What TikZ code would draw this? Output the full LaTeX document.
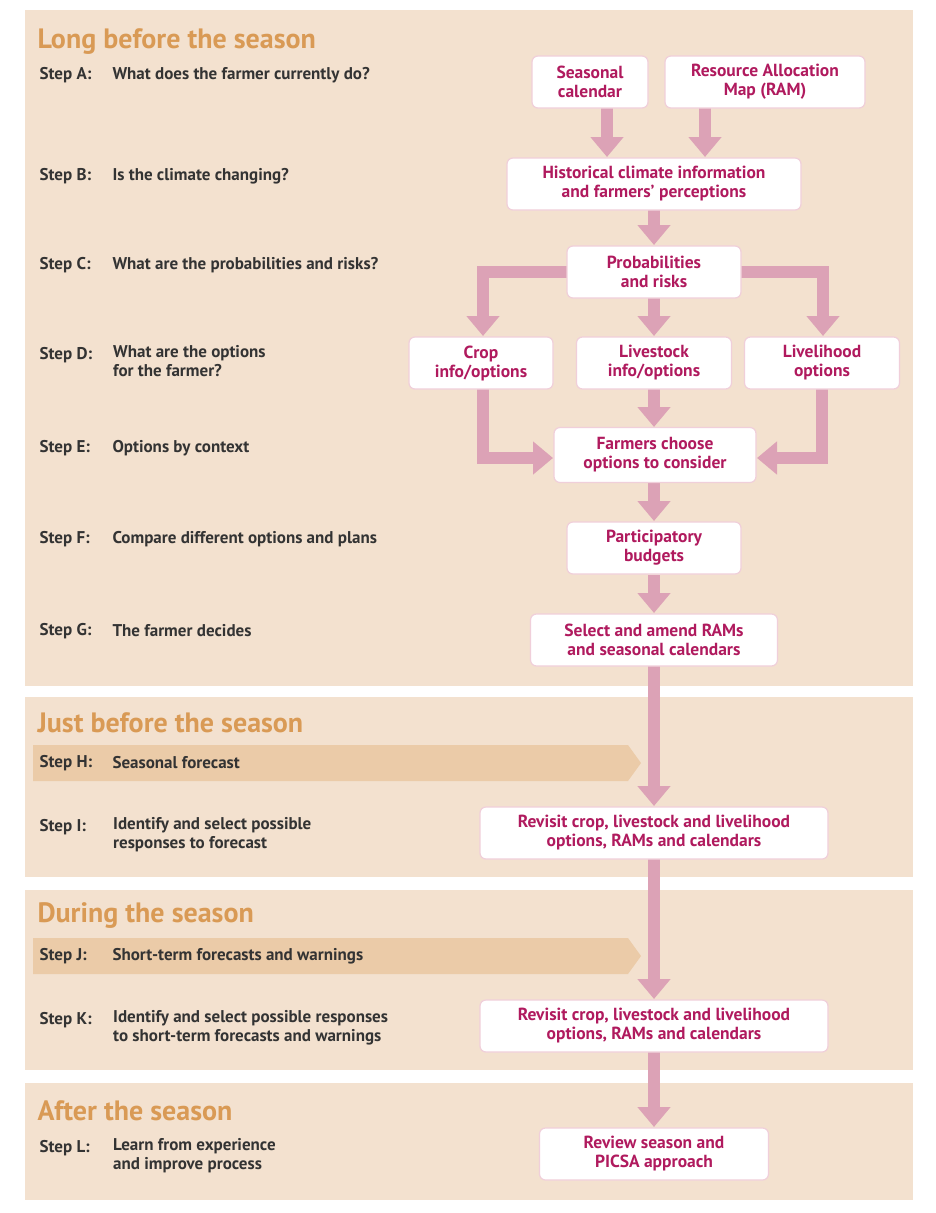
\documentclass[tikz,border=0pt]{standalone}
\usepackage{fontspec}
\setmainfont{PT Sans}
\usetikzlibrary{arrows.meta}
\definecolor{panel}{HTML}{F3E1CF}
\definecolor{band}{HTML}{EBCBA8}
\definecolor{head}{HTML}{D99A55}
\definecolor{mag}{HTML}{B01A5E}
\definecolor{pk}{HTML}{DCA2B6}
\definecolor{boxln}{HTML}{F0CFDA}
\definecolor{txt}{HTML}{333333}
\tikzset{
  box/.style={draw=boxln,line width=1.2pt,fill=white,rounded corners=6pt,text=mag,font=\fontsize{17.5}{19}\selectfont\bfseries,align=center,minimum height=52pt,inner sep=2pt},
  arr/.style={draw=pk,line width=12pt,-{Triangle[width=32pt,length=20pt]}},
  heading/.style={anchor=west,text=head,font=\fontsize{28}{29}\selectfont\bfseries},
  stp/.style={anchor=west,text=txt,font=\fontsize{17}{18}\selectfont\bfseries},
  desc/.style={anchor=north west,text=txt,font=\fontsize{17}{19}\selectfont\bfseries,align=left,inner sep=0pt}
}
\begin{document}
\begin{tikzpicture}[x=1pt,y=-1pt]
\useasboundingbox (0,0) rectangle (936,1213);
\fill[white] (0,0) rectangle (936,1213);
\fill[panel] (25,10) rectangle (913,686);
\fill[panel] (25,697) rectangle (913,877);
\fill[panel] (25,890) rectangle (913,1070);
\fill[panel] (25,1083) rectangle (913,1200);
\fill[band] (33,745) -- (628,745) -- (641,763) -- (628,781) -- (33,781) -- cycle;
\fill[band] (33,938) -- (628,938) -- (641,956) -- (628,974) -- (33,974) -- cycle;

\node[heading] (h1) at (34,42) {Long before the season};
\node[heading] (h2) at (34,723) {Just before the season};
\node[heading] (h3) at (34,916) {During the season};
\node[heading] (h4) at (34,1111) {After the season};

\foreach \n/\s/\y/\d in {a/A/75/{What does the farmer currently do?},
  b/B/176/{Is the climate changing?},
  c/C/265/{What are the probabilities and risks?},
  e/E/448/{Options by context},
  f/F/539/{Compare different options and plans},
  g/G/631/{The farmer decides},
  h/H/763/{Seasonal forecast},
  j/J/956/{Short-term forecasts and warnings}}{
  \node[stp] (s\n) at (36,\y) {Step \s:};
  \node[stp] (d\n) at (109,\y) {\d};
}
\foreach \n/\s/\y/\d in {d/D/355/{What are the options\\for the farmer?},
  i/I/827/{Identify and select possible\\responses to forecast},
  k/K/1020/{Identify and select possible responses\\to short-term forecasts and warnings},
  l/L/1148/{Learn from experience\\and improve process}}{
  \node[stp] (s\n) at (36,\y) {Step \s:};
  \node[desc] (d\n) at (113,{\y-10}) {\d};
}

\draw[arr] (607,107) -- (607,157);
\draw[arr] (705,107) -- (705,157);
\draw[arr] (654,210) -- (654,245);
\draw[arr] (570,272) -- (483,272) -- (483,336);
\draw[arr] (738,272) -- (823,272) -- (823,336);
\draw[arr] (654,297) -- (654,336);
\draw[arr] (483,389) -- (483,458) -- (553,458);
\draw[arr] (822,389) -- (822,458) -- (757,458);
\draw[arr] (654,389) -- (654,427);
\draw[arr] (654,483) -- (654,521);
\draw[arr] (654,575) -- (654,613);
\draw[arr] (654,666) -- (654,806);
\draw[arr] (654,859) -- (654,999);
\draw[arr] (654,1052) -- (654,1127);

\node[box,minimum width=116pt] (sc) at (590,82) {Seasonal\\calendar};
\node[box,minimum width=200pt] (ram) at (765,82) {Resource Allocation\\Map (RAM)};
\node[box,minimum width=294pt] (hist) at (654,184) {Historical climate information\\and farmers’ perceptions};
\node[box,minimum width=174pt] (prob) at (654,272) {Probabilities\\and risks};
\node[box,minimum width=144pt] (crop) at (481,363) {Crop\\info/options};
\node[box,minimum width=155pt] (live) at (654,363) {Livestock\\info/options};
\node[box,minimum width=155pt] (lh) at (822,363) {Livelihood\\options};
\node[box,minimum width=202pt,minimum height=55pt] (fc) at (655,455) {Farmers choose\\options to consider};
\node[box,minimum width=174pt] (pb) at (654,548) {Participatory\\budgets};
\node[box,minimum width=247pt] (sel) at (654,640) {Select and amend RAMs\\and seasonal calendars};
\node[box,minimum width=348pt] (rv1) at (654,833) {Revisit crop, livestock and livelihood\\options, RAMs and calendars};
\node[box,minimum width=348pt] (rv2) at (654,1026) {Revisit crop, livestock and livelihood\\options, RAMs and calendars};
\node[box,minimum width=229pt] (rev) at (654,1154) {Review season and\\PICSA approach};
\end{tikzpicture}
\end{document}
